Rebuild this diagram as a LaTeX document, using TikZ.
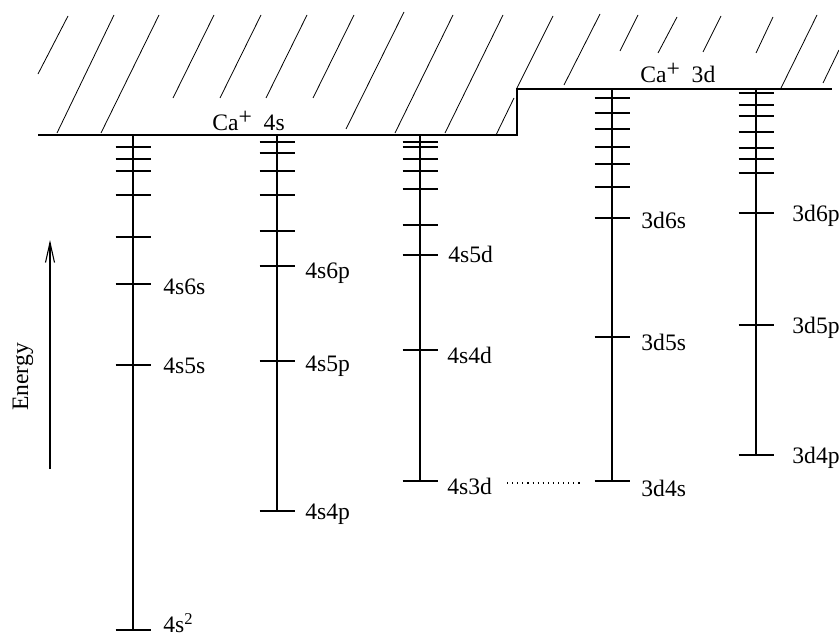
\documentclass[tikz,border=0pt]{standalone}
\usepackage{fontspec}
\setmainfont{Liberation Serif}
\usepackage{tikz}
\usetikzlibrary{arrows.meta}

\begin{document}
\begin{tikzpicture}[x=0.5pt,y=-0.5pt,font=\fontsize{11.8}{14}\selectfont,
  limit/.style={line width=1.3pt},
  hatch/.style={line width=0.4pt},
  level/.style={line width=0.55pt},
  lbl/.style={anchor=west,inner sep=0pt}]
  \useasboundingbox (0,0) rectangle (839,637);
  % ionisation limits
  \draw[limit] (38,135) -- (517,135) -- (517,89) -- (832,89);
  \foreach \xa/\ya/\xb/\yb in {38/74/68/16, 57/133/114/15, 101/133/159/15,
      173/98/214/15, 220/98/261/15, 266/98/307/15, 313/98/354/15,
      346/129/404/12, 395/133/453/15, 445/133/503/15, 496/135/514/98,
      517/88/553/16, 564/85/600/14, 620/51/638/15, 658/53/677/17,
      703/52/721/16, 756/53/773/17, 781/88/817/15, 823/83/839/50}
    \draw[hatch] (\xa,\ya) -- (\xb,\yb);
  \node[anchor=base west,inner sep=0pt] (lim4s) at (212,130) {Ca\raisebox{0.55ex}{+}\ \ 4s};
  \node[anchor=base west,inner sep=0pt] (lim3d) at (640,82) {Ca\raisebox{0.55ex}{+}\ \ 3d};
  % level ladders
  \foreach \cx/\ytop/\ybot/\ys in {
      133/135/630/{147,159,171,195,237,284,365,630},
      277/135/511/{142,153,171,195,231,266,361,511},
      420/135/481/{142,147,159,171,189,225,255,350,481},
      612/90/481/{98,113,129,147,164,187,218,337,481},
      756/89/455/{93,105,116,132,148,159,173,213,325,455}} {
    \draw[level] (\cx,\ytop) -- (\cx,\ybot);
    \foreach \y in \ys
      \draw[level] (\cx-17.5,\y) -- (\cx+17.5,\y);
  }
  % labels
  \node[lbl] (s4) at (163,623) {4s\textsuperscript{2}};
  \node[lbl] (s5) at (163,366) {4s5s};
  \node[lbl] (s6) at (163,287) {4s6s};
  \node[lbl] (p4) at (305,514) {4s4p};
  \node[lbl] (p5) at (305,366) {4s5p};
  \node[lbl] (p6) at (305,273) {4s6p};
  \node[lbl] (d3) at (447,486) {4s3d};
  \node[lbl] (d4) at (447,355) {4s4d};
  \node[lbl] (d5) at (448,254) {4s5d};
  \node[lbl] (ds4) at (641,488) {3d4s};
  \node[lbl] (ds5) at (641,342) {3d5s};
  \node[lbl] (ds6) at (641,220) {3d6s};
  \node[lbl] (dp4) at (792,458) {3d4p};
  \node[lbl] (dp5) at (792,328) {3d5p};
  \node[lbl] (dp6) at (792,216) {3d6p};
  \coordinate (dotA) at (507,483);
  \coordinate (dotB) at (583,483);
  \draw[level,dotted] (dotA) -- (dotB);
  % energy axis
  \coordinate (ebot) at (50,469);
  \coordinate (etop) at (50,240);
  \draw[level,-{Straight Barb[length=10pt,width=4.5pt]}] (ebot) -- (etop);
  \node[rotate=90,inner sep=0pt] (energy) at (23,377) {Energy};
\end{tikzpicture}
\end{document}
